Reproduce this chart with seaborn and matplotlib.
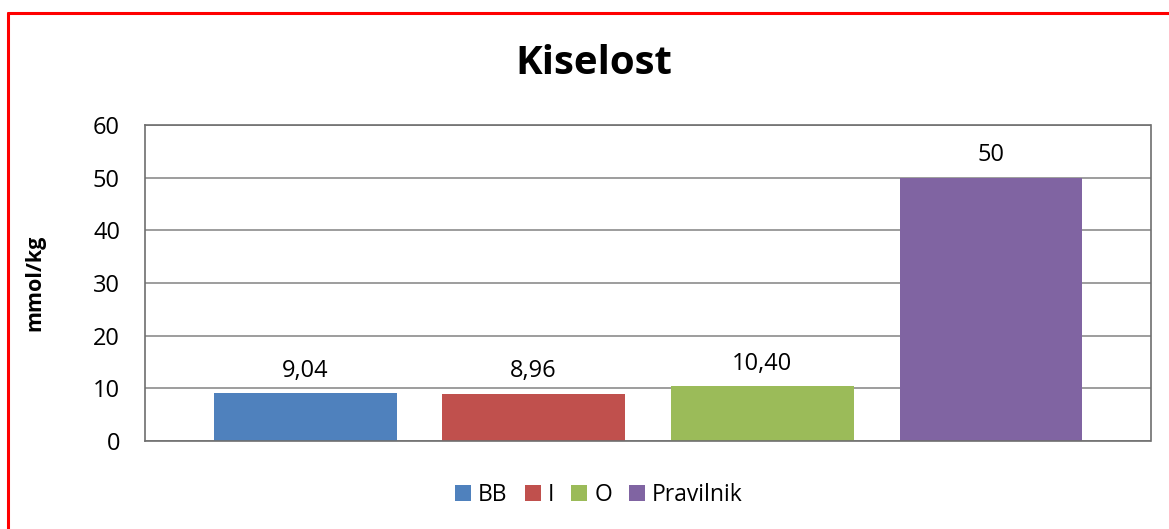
import matplotlib
matplotlib.use("Agg")
import matplotlib.pyplot as plt
import seaborn as sns
import pandas as pd
from matplotlib.lines import Line2D
from matplotlib.patches import Patch

series = ["BB", "I", "O", "Pravilnik"]
values = [9.04, 8.96, 10.40, 50]
value_labels = ["9,04", "8,96", "10,40", "50"]
colors = ["#4f81bd", "#c0504d", "#9bbb59", "#8064a2"]
yticks = [0, 10, 20, 30, 40, 50, 60]
title = "Kiselost"
ylabel = "mmol/kg"

sns.set_theme(style="white")
plt.rcParams["font.family"] = ["Open Sans", "DejaVu Sans"]
plt.rcParams["text.color"] = "black"
plt.rcParams["ytick.color"] = "black"
plt.rcParams["axes.labelcolor"] = "black"

df = pd.DataFrame({"series": series, "value": values})

fig = plt.figure(figsize=(11.69, 5.29), dpi=100)
ax = fig.add_axes([145/1169, 1-441/529, (1151-145)/1169, (441-125)/529])

sns.barplot(data=df, x="series", y="value", hue="series", palette=colors,
            order=series, hue_order=series, dodge=False, width=0.8,
            saturation=1, legend=False, ax=ax)

for patch in ax.patches:
    patch.set_edgecolor("none")

ax.set_xlim(-0.70, 3.70)
ax.set_ylim(0, 60)
ax.set_yticks(yticks)
ax.set_yticklabels([str(t) for t in yticks], fontsize=17)
ax.set_xticks([])
ax.set_xlabel("")
ax.set_ylabel(ylabel, fontsize=15.5, fontweight="bold")
ax.yaxis.set_label_coords(-0.099, 0.5)
ax.yaxis.grid(True, color="#8c8c8c", linewidth=1.2)
ax.set_axisbelow(True)
ax.tick_params(axis="y", length=0, pad=18)

for sp in ax.spines.values():
    sp.set_visible(True)
    sp.set_color("#6e6e6e")
    sp.set_linewidth(1.2)
    sp.set_linestyle((0, (3, 1)))

for i, (v, lab) in enumerate(zip(values, value_labels)):
    ax.text(i, v + 2.0, lab, ha="center", va="bottom", fontsize=17, color="black")

fig.text(594/1169, 1-64/529, title, ha="center", va="center", fontsize=29, fontweight="bold",
         color="black")

handles = [Patch(facecolor=c, edgecolor="none") for c in colors]
fig.legend(handles, series, loc="center", bbox_to_anchor=(599/1169, 1-495/529), ncol=4,
           frameon=False, fontsize=16.5, handlelength=0.7, handleheight=0.7,
           handletextpad=0.3, columnspacing=0.75)

# red outer frame (top and left visible)
fig.add_artist(Line2D([8/1169, 1.0], [1-13/529, 1-13/529], color="#ff0000", linewidth=2.2,
                      transform=fig.transFigure))
fig.add_artist(Line2D([8/1169, 8/1169], [1-13/529, 0.0], color="#ff0000", linewidth=2.2,
                      transform=fig.transFigure))

fig.savefig("out.png", dpi=100, facecolor="white")
